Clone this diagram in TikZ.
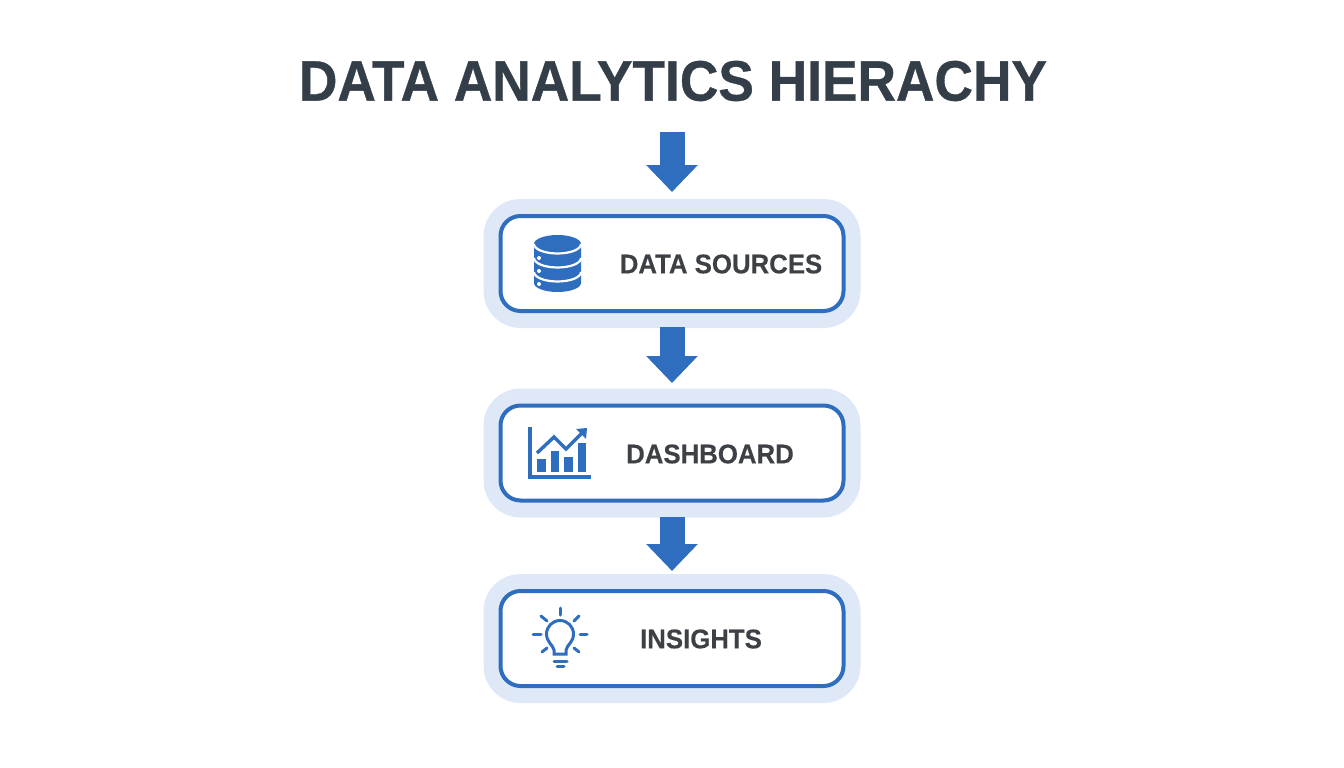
\documentclass[tikz,border=0pt]{standalone}
\usepackage{fontspec}
\setmainfont{Liberation Sans}
\newfontfamily\headfont[FakeStretch=0.935,FakeBold=0.6]{Liberation Sans Bold}
\newfontfamily\stagefont[FakeStretch=0.955,FakeBold=0.3]{Liberation Sans Bold}
\usetikzlibrary{arrows.meta}
\definecolor{flowblue}{HTML}{2F6DBF}
\definecolor{halo}{HTML}{DFE8F7}
\definecolor{titleink}{HTML}{343E48}
\definecolor{labelink}{HTML}{3D4145}
\tikzset{
  stage/.style={draw=flowblue,fill=white,line width=4pt,rounded corners=20pt,outer sep=0pt,
    minimum width=343pt,minimum height=95pt,preaction={draw=halo,line width=34pt}},
  stagetext/.style={text=labelink,font=\fontsize{27}{27}\stagefont,inner sep=0pt},
  flowarrow/.style={draw=flowblue,line width=25pt,-{Triangle[width=50pt,length=27pt]}},
  iconline/.style={draw=flowblue,line width=3pt,line cap=round}
}
\begin{document}
\begin{tikzpicture}[x=1pt,y=-1pt]
      \useasboundingbox (0,0) rectangle (1344,768);
      \node[text=titleink,font=\fontsize{57}{57}\headfont,inner sep=0pt](title) at (673,81){DATA ANALYTICS HIERACHY};
      \coordinate (start) at (672,132);
      \node[stage](sources) at (672,263.5){};
      \node[stage](dashboard) at (672,453){};
      \node[stage](insights) at (672,638.5){};
      \node[stagetext](sourceslabel) at (721,264){DATA SOURCES};
      \node[stagetext](dashboardlabel) at (710,454){DASHBOARD};
      \node[stagetext](insightslabel) at (701,639){INSIGHTS};
      \draw[flowarrow,shorten >=24pt] (start) -- (sources);
      \draw[flowarrow,shorten <=16pt,shorten >=22.5pt] (sources) -- (dashboard);
      \draw[flowarrow,shorten <=16.5pt,shorten >=20pt] (dashboard) -- (insights);
      % database icon
      \fill[flowblue] (534,244) arc[x radius=23.5,y radius=9,start angle=180,end angle=360]
        -- (581,283) arc[x radius=23.5,y radius=9,start angle=0,end angle=180] -- cycle;
      \foreach \y in {244,258,272}
        \draw[white,line width=2.2pt] (534,\y) arc[x radius=23.5,y radius=9.5,start angle=180,end angle=0];
      \foreach \y in {258,271,284}
        \fill[white] (539,\y) circle (2);
      % chart icon
      \draw[flowblue,line width=3.4pt] (530,427) -- (530,477) -- (591,477);
      \fill[flowblue] (537,459) rectangle (546,472);
      \fill[flowblue] (551,451) rectangle (559,472);
      \fill[flowblue] (564,457) rectangle (573,472);
      \fill[flowblue] (578,443) rectangle (586,472);
      \draw[flowblue,line width=3.4pt] (537,453) -- (554,437) -- (566,449) -- (582,433);
      \fill[flowblue] (587,428) -- (586,439) -- (576,429) -- cycle;
      % bulb icon
      \draw[iconline] (554,654) -- (554,650) .. controls (553,645) and (546.5,642) .. (546.5,634)
        arc[radius=13.5,start angle=180,end angle=360]
        .. controls (573.5,642) and (567,645) .. (566,650) -- (566,654) -- cycle;
      \draw[iconline] (554,661) -- (567,661);
      \draw[iconline] (557,666) -- (564,666);
      \draw[iconline] (560,608) -- (560,615);
      \draw[iconline] (533,634) -- (541,634);
      \draw[iconline] (580,634) -- (587,634);
      \draw[iconline] (541,616) -- (547,621);
      \draw[iconline] (579,616) -- (574,621);
      \draw[iconline] (542,652) -- (547,648);
      \draw[iconline] (579,652) -- (574,648);
    \end{tikzpicture}
\end{document}
